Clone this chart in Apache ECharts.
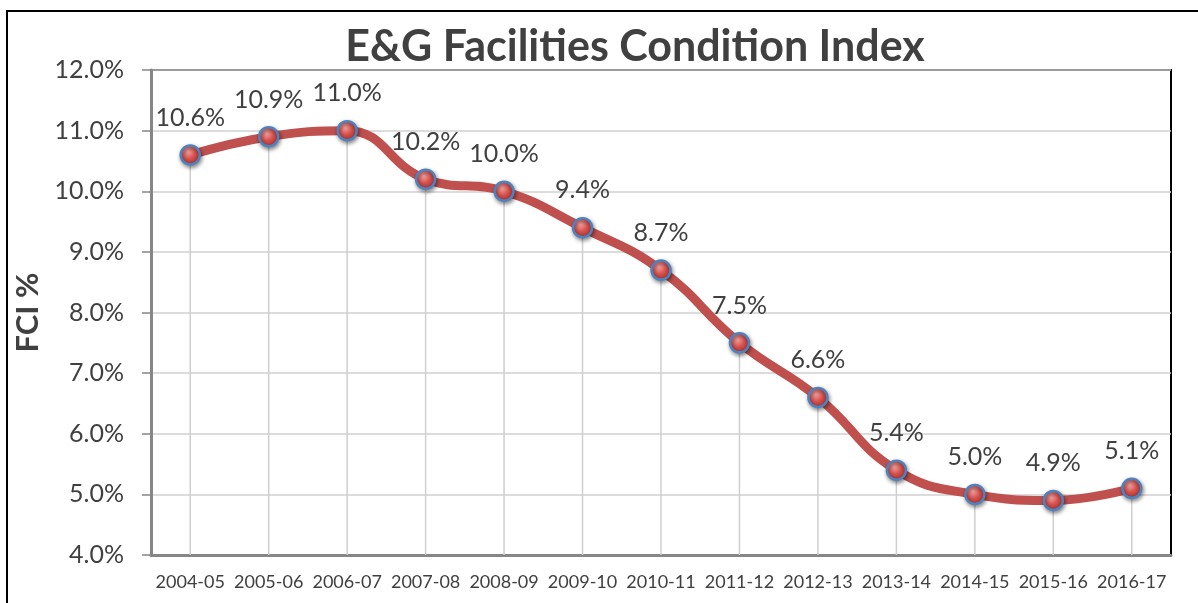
<!DOCTYPE html>
<html><head><meta charset="utf-8">
<script src="https://cdn.jsdelivr.net/npm/echarts@6/dist/echarts.min.js"></script>
<style>html,body{margin:0;padding:0;background:#fff}#c{width:1198px;height:603px}</style>
</head><body><div id="c"></div>
<script>
const categories = ['2004-05','2005-06','2006-07','2007-08','2008-09','2009-10','2010-11','2011-12','2012-13','2013-14','2014-15','2015-16','2016-17'];
const fciValues = [10.6,10.9,11.0,10.2,10.0,9.4,8.7,7.5,6.6,5.4,5.0,4.9,5.1];
const titleText = 'E&G Facilities Condition Index';
const yAxisName = 'FCI %';

const FONT = 'Lato, "Open Sans", sans-serif';
const chart = echarts.init(document.getElementById('c'));
chart.setOption({
  animation:false,
  backgroundColor:'#fff',
  title:{text:titleText,left:630,top:21,textAlign:'center',
    textStyle:{fontFamily:FONT,fontSize:43,fontWeight:'bold',color:'#404040'}},
  graphic:[{type:'rect',shape:{x:7,y:11,width:1300,height:700},style:{fill:'none',stroke:'#000',lineWidth:2},z:-1}],
  grid:{left:151,top:70,right:27,bottom:48,show:true,borderColor:'#000',borderWidth:2,backgroundColor:'transparent'},
  xAxis:{type:'category',data:categories,boundaryGap:true,
    axisLine:{lineStyle:{color:'#868686',width:3}},
    axisTick:{show:false},
    axisLabel:{interval:0,fontFamily:FONT,fontSize:18,color:'#404040',margin:18},
    splitLine:{show:false}},
  yAxis:{type:'value',min:4,max:12,interval:1,name:yAxisName,nameLocation:'middle',nameGap:104,
    nameTextStyle:{fontFamily:FONT,fontSize:31,fontWeight:'bold',color:'#404040'},
    axisLine:{show:true,lineStyle:{color:'#868686',width:3}},
    axisTick:{show:true,length:9,lineStyle:{color:'#868686',width:1.5}},
    axisLabel:{fontFamily:FONT,fontSize:25,color:'#404040',margin:27,formatter:v=>v.toFixed(1)+'%'},
    splitLine:{lineStyle:{color:'#d0d0d0',width:1.5}}},
  series:[
    {type:'bar',data:fciValues,barWidth:1.5,itemStyle:{color:'#cfcfcf'},silent:true,z:1},
    {type:'line',data:fciValues,smooth:0.45,z:3,
     lineStyle:{color:'#C0504D',width:9},
     symbol:'circle',symbolSize:19,
     itemStyle:{color:{type:'radial',x:0.4,y:0.35,r:0.65,colorStops:[{offset:0,color:'#f4a6a4'},{offset:0.5,color:'#d9534f'},{offset:1,color:'#a8322f'}]},
       borderColor:'#4F81BD',borderWidth:2.5,shadowColor:'rgba(0,0,0,0.45)',shadowBlur:4,shadowOffsetX:1,shadowOffsetY:2},
     label:{show:true,position:'top',distance:14,fontFamily:FONT,fontSize:25,color:'#404040',formatter:p=>p.value.toFixed(1)+'%'}}
  ]
});
</script></body></html>
